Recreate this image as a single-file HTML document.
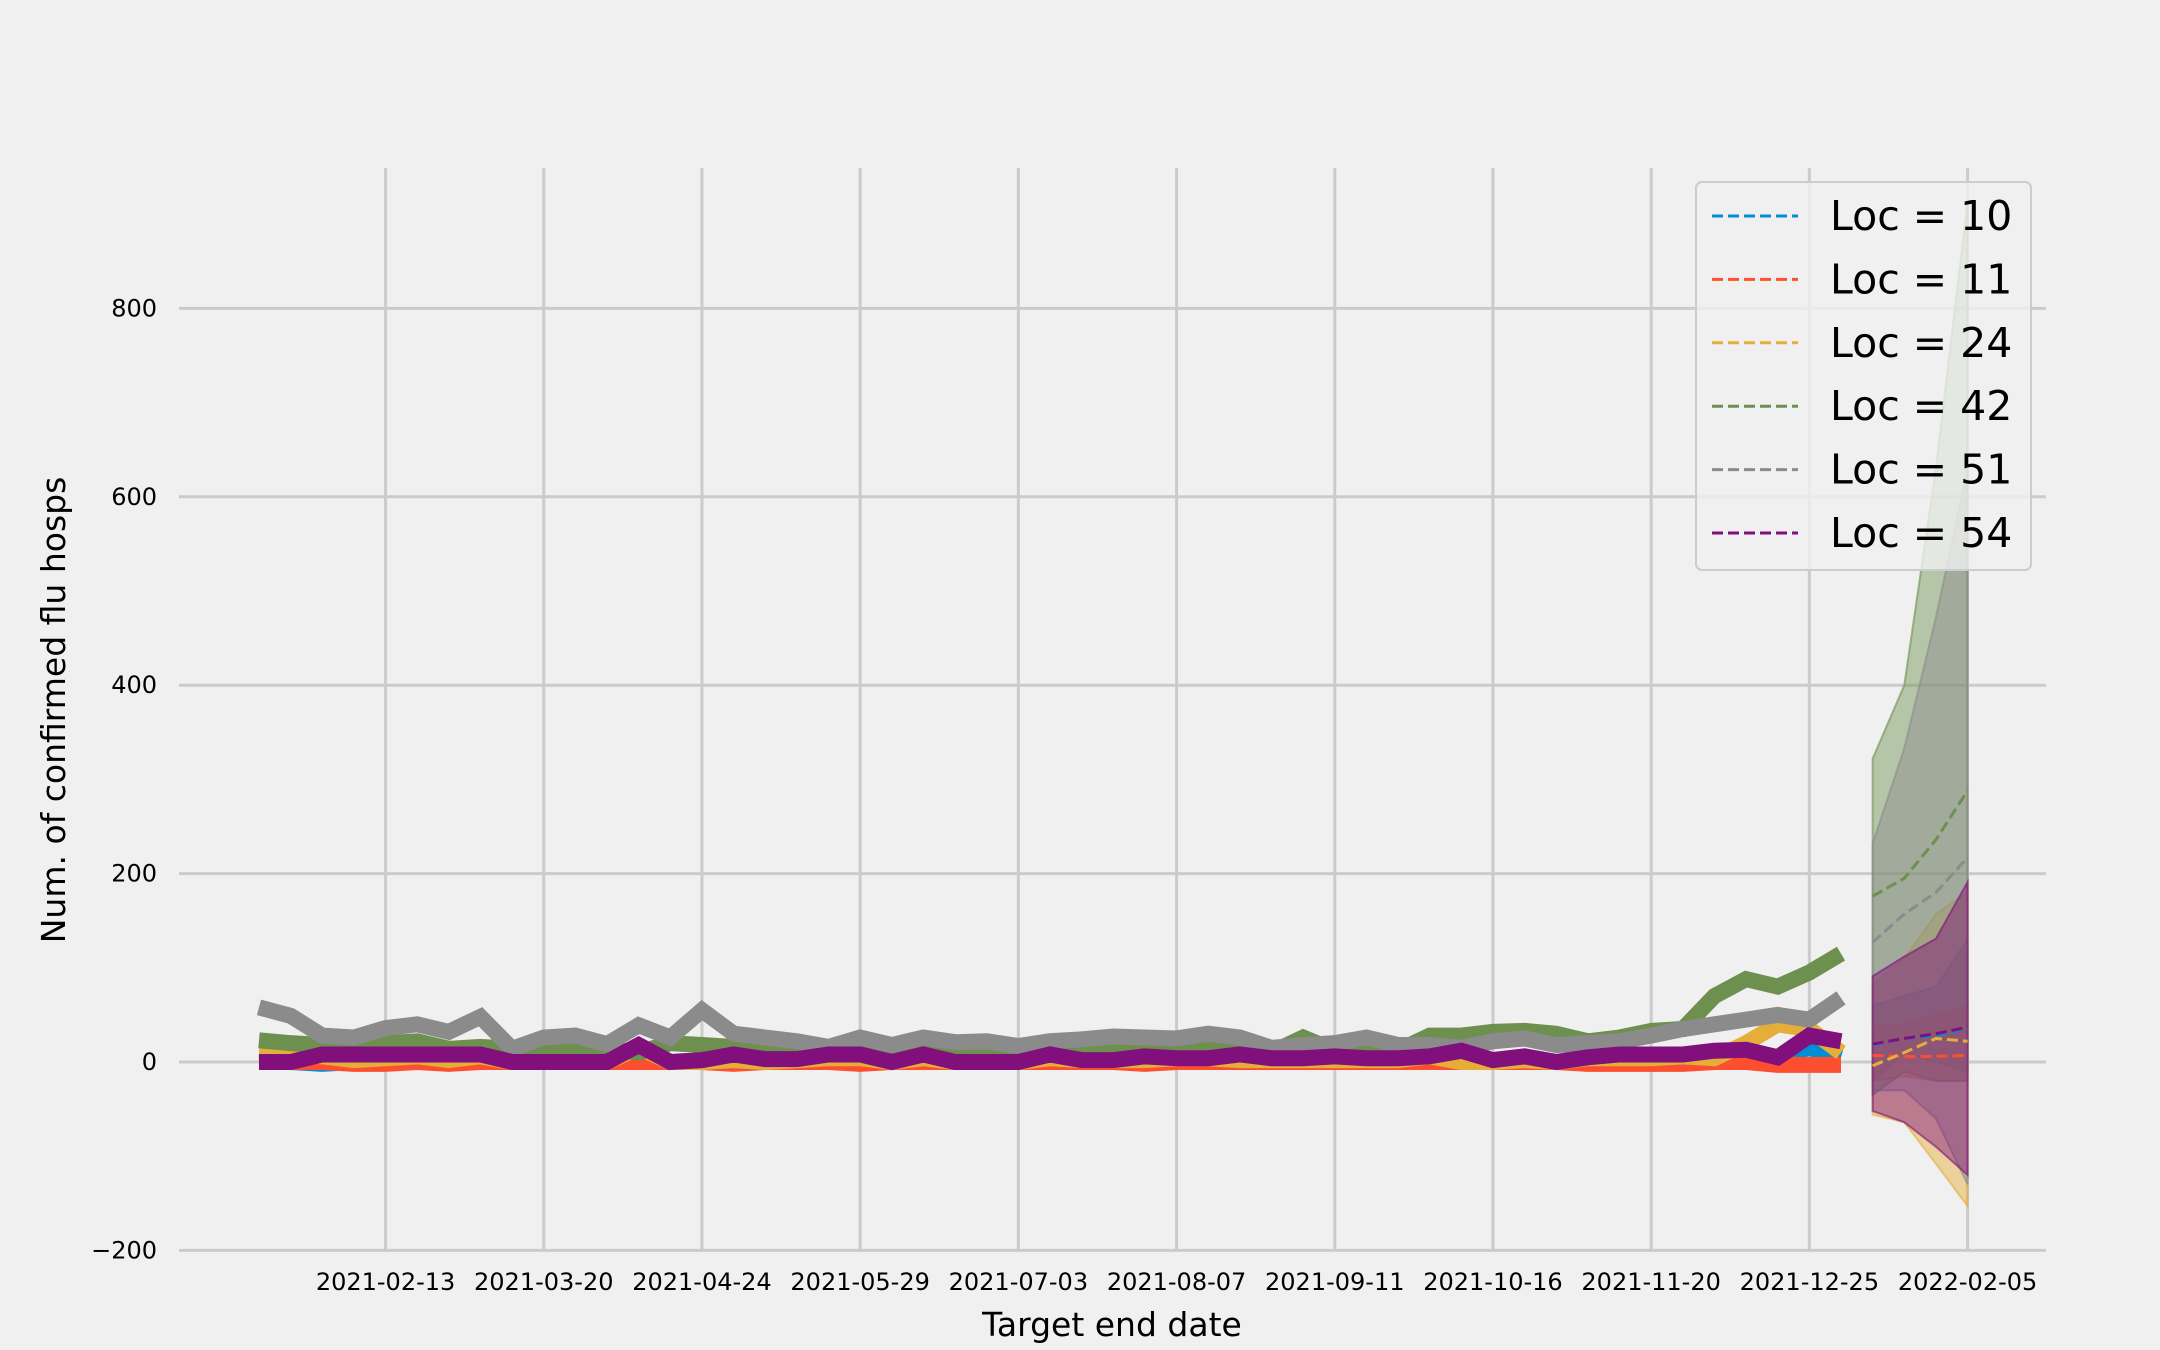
<!DOCTYPE html>
<html><head><meta charset="utf-8"><style>
html,body{margin:0;padding:0;background:#f0f0f0;}
svg{display:block;font-family:"DejaVu Sans","Liberation Sans",sans-serif;}
</style></head><body>
<svg id="chart" width="2160" height="1350" viewBox="0 0 2160 1350" xmlns="http://www.w3.org/2000/svg">
<rect width="2160" height="1350" fill="#f0f0f0"/>
<g id="grid"></g>
<g id="bands"></g>
<g id="lines"></g>
<g id="medians"></g>
<g id="ticks"></g>
<text x="1112" y="1336" font-size="33" text-anchor="middle" fill="#000">Target end date</text>
<text x="0" y="0" font-size="33" text-anchor="middle" fill="#000" transform="translate(65,710) rotate(-90)">Num. of confirmed flu hosps</text>
<g id="legend"></g>
</svg>
<script>
const locs = ["10","11","24","42","51","54"];
const colors = ["#008fd5","#fc4f30","#e5ae38","#6d904f","#8b8b8b","#810f7c"];
const yTicks = [-200,0,200,400,600,800];
const truthStart = "2021-01-16";
const forecastDates = ["2022-01-15","2022-01-22","2022-01-29","2022-02-05"];
const truth10 = [0,0,-2,0,0,0,0,0,0,0,0,0,0,0,0,0,0,0,0,0,0,0,0,0,0,0,0,0,0,0,0,0,0,0,0,0,0,0,0,0,0,0,0,0,0,0,0,2,5,15,5];
const truth11 = [0,0,0,-2,-2,0,-2,0,0,0,0,0,0,0,0,-2,0,0,0,-2,0,0,0,0,0,0,0,0,-2,0,0,0,0,0,0,0,0,0,0,0,0,0,-2,-2,-2,-2,0,0,-3,-3,-3];
const truth24 = [10,8,6,2,4,6,2,6,0,0,0,0,15,0,0,2,0,2,4,4,0,4,0,0,0,4,2,2,2,4,4,2,2,2,2,2,2,6,0,0,2,0,4,4,4,6,4,20,40,35,10];
const truth42 = [23,20,18,16,20,22,14,16,14,10,12,14,10,20,18,16,15,14,12,14,10,12,10,10,12,10,12,12,10,12,14,12,10,26,12,15,12,28,28,32,33,30,22,26,33,35,70,88,80,95,115];
const truth51 = [58,49,28,26,36,40,32,48,14,26,28,19,39,26,55,30,26,22,16,26,18,26,21,22,17,22,24,27,26,25,30,26,15,18,20,26,18,18,15,22,25,18,20,22,28,35,40,45,50,45,68];
const truth54 = [0,0,8,8,8,8,8,8,0,0,0,0,18,0,2,8,3,3,8,8,0,8,0,0,0,8,2,2,6,4,4,8,4,4,6,4,4,6,12,2,6,0,5,8,8,8,12,13,5,28,22];
const median10 = [18,25,28,36];
const median11 = [7,6,6,7];
const median24 = [-4,10,25,22];
const median42 = [176,195,236,288];
const median51 = [127,157,180,217];
const median54 = [19,25,30,37];
const lower10 = [-20,10,0,-10], upper10 = [60,70,80,130];
const lower11 = [-20,-15,-20,-20], upper11 = [40,40,50,60];
const lower24 = [-56,-64,-108,-153], upper24 = [82,110,157,180];
const lower42 = [-35,-10,-20,-20], upper42 = [322,400,630,913];
const lower51 = [-30,-30,-60,-130], upper51 = [232,333,472,629];
const lower54 = [-52,-64,-90,-120], upper54 = [91,112,131,191];

const truths=[truth10,truth11,truth24,truth42,truth51,truth54];
const medians=[median10,median11,median24,median42,median51,median54];
const lowers=[lower10,lower11,lower24,lower42,lower51,lower54];
const uppers=[upper10,upper11,upper24,upper42,upper51,upper54];

function parse(s){const p=s.split("-");return Date.UTC(+p[0],+p[1]-1,+p[2]);}
function fmt(t){return new Date(t).toISOString().slice(0,10);}
const categories=[];
for(let i=0;i<truth51.length;i++)categories.push(fmt(parse(truthStart)+i*7*86400000));
forecastDates.forEach(d=>categories.push(d));
const nT=truth51.length;

const NS="http://www.w3.org/2000/svg";
const PL=179,PR=2046,PT=168,PB=1250;
function xs(i){return 259+i*31.64;}
function ys(v){return 1062-v*0.942;}
function mk(tag,attrs,parent){const e=document.createElementNS(NS,tag);for(const k in attrs)e.setAttribute(k,attrs[k]);parent.appendChild(e);return e;}

const grid=document.getElementById('grid'), ticks=document.getElementById('ticks');
yTicks.forEach(v=>{
  const l=mk('line',{x1:PL,x2:PR,y1:ys(v),y2:ys(v),stroke:'#cbcbcb','stroke-width':3},grid);
  
  
  const t=mk('text',{x:157,y:ys(v)+8,'font-size':24,'text-anchor':'end',fill:'#000'},ticks);
  
  
  t.textContent=(v<0?'\u2212'+(-v):String(v));
});
const tickIdx=[];
for(let i=4;i<categories.length-1;i+=5)tickIdx.push(i);
tickIdx.push(categories.length-1);
tickIdx.forEach(i=>{
  const x=xs(i);
  const l=mk('line',{x1:x,x2:x,y1:PT,y2:PB,stroke:'#cbcbcb','stroke-width':3},grid);
  
  
  const t=mk('text',{x:x,y:1290,'font-size':24,'text-anchor':'middle',fill:'#000'},ticks);
  
  
  t.textContent=categories[i];
});

const bands=document.getElementById('bands'), lines=document.getElementById('lines'), meds=document.getElementById('medians');
const fx=forecastDates.map((d,j)=>xs(nT+j));
locs.forEach((loc,i)=>{
  let pts=uppers[i].map((v,j)=>fx[j]+','+ys(v));
  pts=pts.concat(lowers[i].map((v,j)=>fx[j]+','+ys(v)).reverse());
  const p=mk('polygon',{points:pts.join(' '),fill:colors[i],'fill-opacity':0.45,stroke:colors[i],'stroke-opacity':0.6,'stroke-width':2},bands);
  
  
  const tp=truths[i].map((v,j)=>xs(j)+','+ys(v)).join(' ');
  const tl=mk('polyline',{points:tp,fill:'none',stroke:colors[i],'stroke-width':16,'stroke-linejoin':'miter','stroke-miterlimit':3},lines);
  
  
  const mp=medians[i].map((v,j)=>fx[j]+','+ys(v)).join(' ');
  const ml=mk('polyline',{points:mp,fill:'none',stroke:colors[i],'stroke-width':3,'stroke-dasharray':'11,5'},meds);
  
  
});

const lg=document.getElementById('legend');
const box=mk('rect',{x:1696,y:182,width:335,height:388,rx:6,fill:'#f0f0f0','fill-opacity':0.8,stroke:'#cccccc','stroke-width':2},lg);


locs.forEach((loc,i)=>{
  const y=216+i*63.4;
  const g=mk('g',{},lg);
  
  
  mk('line',{x1:1712,x2:1798,y1:y,y2:y,stroke:colors[i],'stroke-width':3,'stroke-dasharray':'11,5'},g);
  const t=mk('text',{x:1830,y:y+14,'font-size':41,fill:'#000'},g);
  t.textContent='Loc = '+loc;
});
</script>
</body></html>
